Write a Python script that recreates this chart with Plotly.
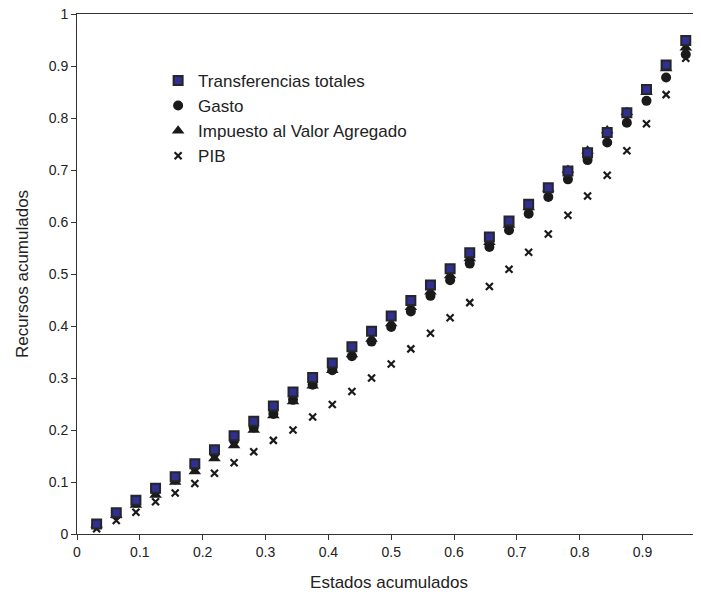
import plotly.graph_objects as go

n_states = 32
x_vals = [i / n_states for i in range(1, n_states)]

transferencias = [0.019, 0.041, 0.065, 0.088, 0.110, 0.135, 0.162, 0.189, 0.217, 0.246,
                  0.273, 0.301, 0.329, 0.360, 0.390, 0.419, 0.449, 0.479, 0.510, 0.541,
                  0.571, 0.602, 0.634, 0.666, 0.698, 0.733, 0.772, 0.810, 0.855, 0.902, 0.949]
gasto = [0.017, 0.037, 0.060, 0.083, 0.105, 0.130, 0.155, 0.180, 0.205, 0.231,
         0.258, 0.287, 0.315, 0.342, 0.370, 0.398, 0.428, 0.458, 0.488, 0.520,
         0.552, 0.584, 0.616, 0.648, 0.682, 0.719, 0.753, 0.791, 0.833, 0.878, 0.922]
iva = [0.018, 0.036, 0.056, 0.075, 0.100, 0.120, 0.145, 0.170, 0.200, 0.228,
       0.255, 0.285, 0.315, 0.345, 0.375, 0.405, 0.436, 0.466, 0.497, 0.530,
       0.561, 0.594, 0.628, 0.664, 0.700, 0.737, 0.776, 0.811, 0.850, 0.895, 0.935]
pib = [0.010, 0.026, 0.042, 0.062, 0.079, 0.097, 0.117, 0.137, 0.158, 0.180,
       0.200, 0.225, 0.249, 0.274, 0.300, 0.327, 0.356, 0.386, 0.416, 0.445,
       0.476, 0.509, 0.542, 0.577, 0.613, 0.650, 0.690, 0.737, 0.789, 0.845, 0.915]

x_ticks = [0, 0.1, 0.2, 0.3, 0.4, 0.5, 0.6, 0.7, 0.8, 0.9]
y_ticks = [0, 0.1, 0.2, 0.3, 0.4, 0.5, 0.6, 0.7, 0.8, 0.9, 1]

FONT = "Liberation Sans Narrow, Arial Narrow, Liberation Sans, Arial, sans-serif"
TFONT = "Liberation Sans, Arial, sans-serif"

fig = go.Figure()
fig.add_trace(go.Scatter(x=x_vals, y=pib, mode="markers", name="PIB", legendrank=4,
                         marker=dict(symbol="x-thin", size=7, color="#1a1a1a",
                                     line=dict(width=2.2, color="#1a1a1a"))))
fig.add_trace(go.Scatter(x=x_vals, y=gasto, mode="markers", name="Gasto", legendrank=2,
                         marker=dict(symbol="circle", size=10, color="#1a1a1a",
                                     line=dict(width=0))))
fig.add_trace(go.Scatter(x=x_vals, y=iva, mode="markers", name="Impuesto al Valor Agregado",
                         legendrank=3,
                         marker=dict(symbol="triangle-up", size=11, color="#1a1a1a",
                                     line=dict(width=0))))
fig.add_trace(go.Scatter(x=x_vals, y=transferencias, mode="markers",
                         name="Transferencias totales", legendrank=1,
                         marker=dict(symbol="square", size=9, color="#2e3192",
                                     line=dict(width=2, color="#262626"))))

# the page body adds an 8px offset, so the figure is sized to fill the window exactly
fig.update_layout(
    width=693, height=588,
    margin=dict(l=69, r=0, t=6, b=62),
    paper_bgcolor="white", plot_bgcolor="white",
    font=dict(family=FONT, size=14, color="#222222"),
    showlegend=True,
    legend=dict(x=0.13, y=0.906, xanchor="left", yanchor="top",
                bgcolor="rgba(0,0,0,0)", font=dict(size=17, family=TFONT),
                tracegroupgap=0, itemwidth=30),
    xaxis=dict(range=[0, 0.993], tickvals=x_ticks, ticktext=[str(v) if v else "0" for v in x_ticks],
               showgrid=False, zeroline=False, showline=True, linecolor="#333333", linewidth=1,
               mirror=True, ticks="outside", ticklen=5, tickcolor="#333333", automargin=False,
               title=dict(text="Estados acumulados", font=dict(size=17, family=TFONT),
                          standoff=17)),
    yaxis=dict(range=[0, 1], tickvals=y_ticks, ticktext=[("0" if v == 0 else ("1" if v == 1 else str(v))) for v in y_ticks],
               showgrid=False, zeroline=False, showline=True, linecolor="#333333", linewidth=1,
               ticks="outside", ticklen=5, tickcolor="#333333", automargin=False,
               ticklabeloverflow="allow",
               title=dict(text="Recursos acumulados", font=dict(size=17, family=TFONT),
                          standoff=15)),
)

fig.write_html("out.html")
